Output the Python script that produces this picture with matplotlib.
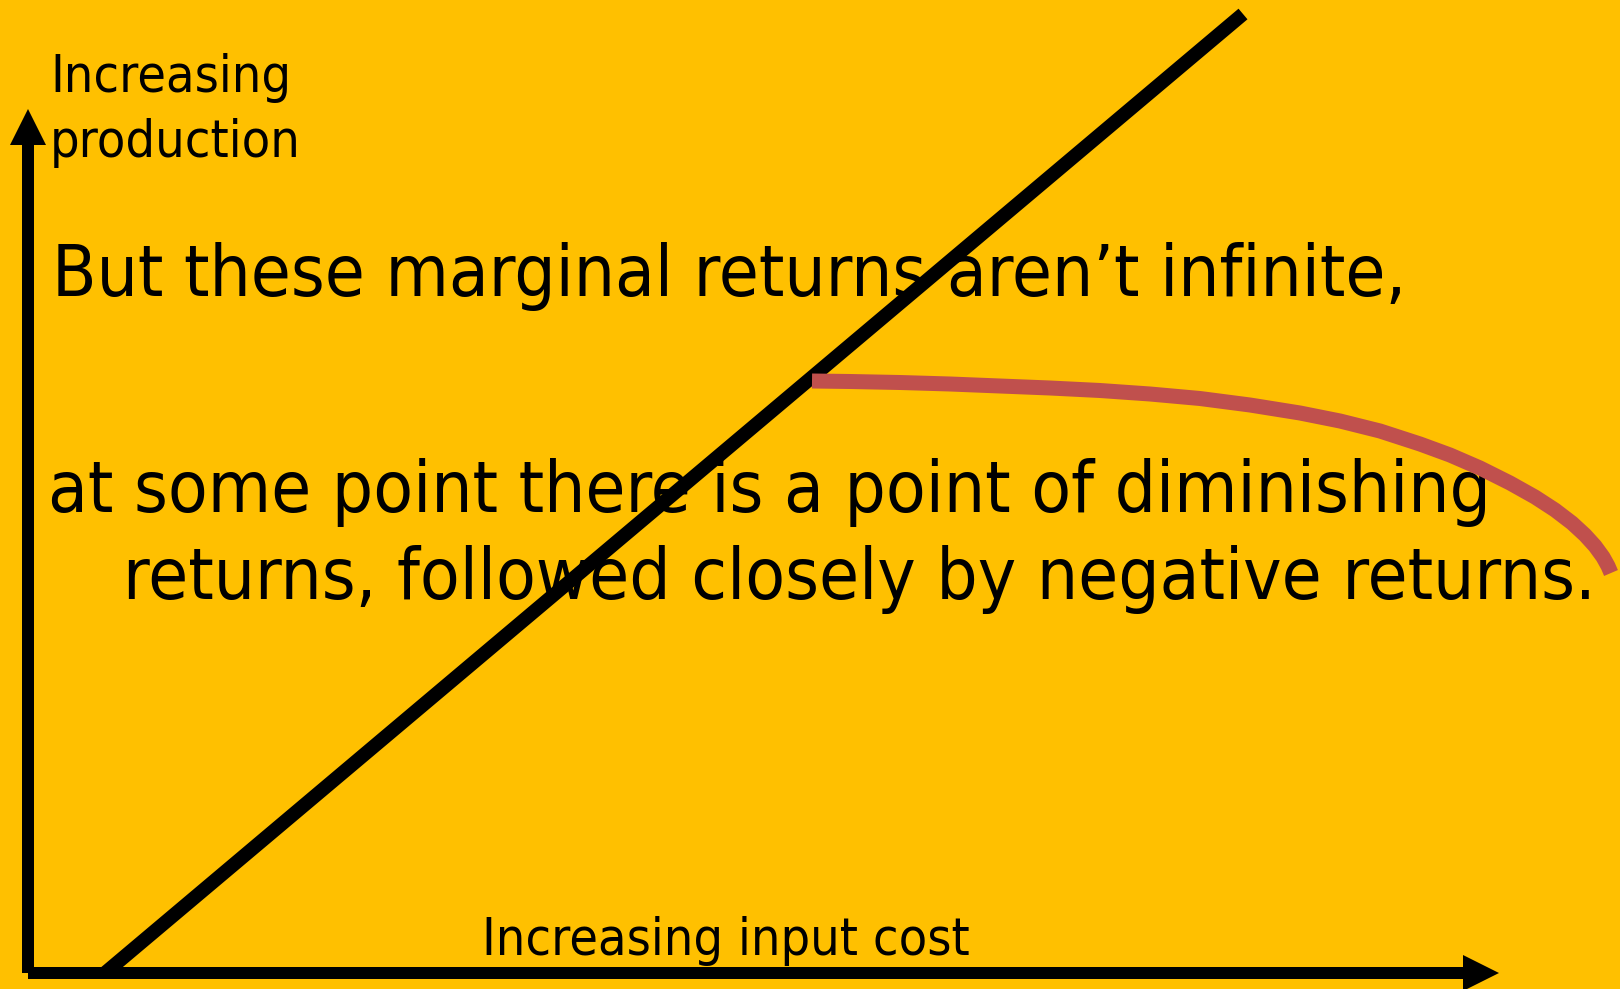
import matplotlib
matplotlib.use("Agg")
import matplotlib.pyplot as plt
from matplotlib import font_manager

BG = '#FFC000'
RED = '#C0504D'

# axis lengths (chart units, origin at the axes corner)
x_axis_end = 14.71
y_axis_end = 8.64

# constant-returns straight line
linear_x = [0.77, 12.15]
linear_y = [0.00, 9.59]

# diminishing then negative returns
curve_x = [7.84, 8.22, 8.72, 9.22, 9.72, 10.22, 10.72, 11.22, 11.72, 12.22,
           12.72, 13.12, 13.52, 13.92, 14.22, 14.52, 14.82, 15.07, 15.27,
           15.44, 15.57, 15.67, 15.75, 15.80, 15.83]
curve_y = [5.92, 5.915, 5.905, 5.89, 5.87, 5.85, 5.825, 5.79, 5.745, 5.68,
           5.60, 5.52, 5.42, 5.29, 5.18, 5.05, 4.90, 4.76, 4.63,
           4.50, 4.38, 4.27, 4.16, 4.07, 4.00]

y_label = ['Increasing', 'production']
x_label = 'Increasing input cost'
body = ['But these marginal returns aren\u2019t infinite,',
        'at some point there is a point of diminishing',
        'returns, followed closely by negative returns.']

fig = plt.figure(figsize=(16.2, 9.89), dpi=100)
fig.patch.set_facecolor(BG)
ax = fig.add_axes([0, 0, 1, 1])
ax.set_facecolor(BG)
ax.set_xlim(-0.28, 15.92)
ax.set_ylim(-0.16, 9.73)
ax.axis('off')

# prefer the condensed cut of DejaVu if it is installed
fpath = font_manager.findfont(font_manager.FontProperties(family='DejaVu Sans', stretch='condensed'))
if 'Condensed' not in fpath:
    fpath = font_manager.findfont(font_manager.FontProperties(family='DejaVu Sans'))

def put(x, y, s, size):
    fp = font_manager.FontProperties(fname=fpath, size=size)
    return ax.text(x, y, s, fontproperties=fp, ha='left', va='baseline',
                   color='black', zorder=1)

lab1 = put(0.22, 8.81, y_label[0], 30)
lab2 = put(0.22, 8.16, y_label[1], 30)
xl = put(4.54, 0.18, x_label, 30)
b1 = put(0.24, 6.77, body[0], 40)
b2 = put(0.20, 4.61, body[1], 40)
b3 = put(0.95, 3.74, body[2], 40)

# scale font sizes so the line widths come out right
fig.canvas.draw()
r = fig.canvas.get_renderer()
lab_scale = 486 / xl.get_window_extent(r).width
body_scale = 1353 / b1.get_window_extent(r).width
for t in (lab1, lab2, xl):
    t.set_fontsize(t.get_fontsize() * lab_scale)
for t in (b1, b2, b3):
    t.set_fontsize(t.get_fontsize() * body_scale)

# axes with arrow heads
ax.arrow(0, 0, x_axis_end, 0, width=0.12, head_width=0.36, head_length=0.36,
         length_includes_head=True, color='black', lw=0, zorder=4)
ax.arrow(0, 0, 0, y_axis_end, width=0.12, head_width=0.36, head_length=0.36,
         length_includes_head=True, color='black', lw=0, zorder=4)

ax.plot(linear_x, linear_y, color='black', lw=10, solid_capstyle='butt', zorder=3)
ax.plot(curve_x, curve_y, color=RED, lw=10.8, solid_capstyle='butt',
        solid_joinstyle='round', zorder=3)

fig.savefig('out.png', dpi=100, facecolor=BG)
